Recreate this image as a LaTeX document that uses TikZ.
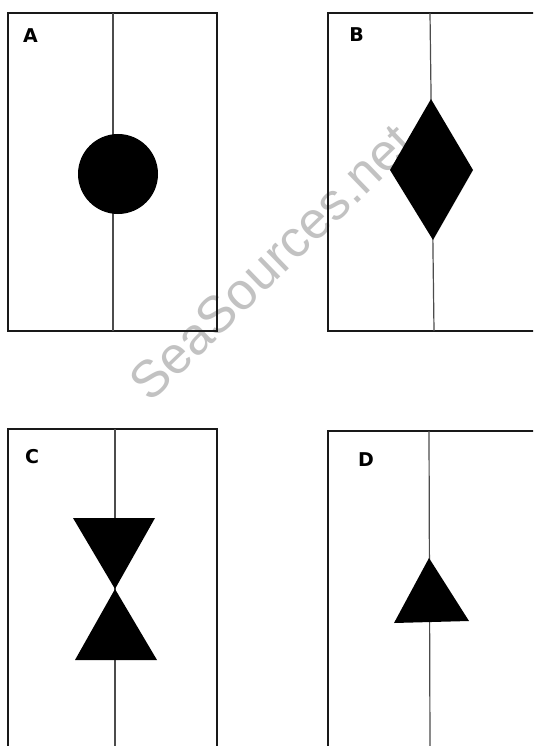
\documentclass[tikz,border=0pt]{standalone}
\usepackage{fontspec}
\setmainfont{Liberation Sans}
\newfontfamily\lblfont{DejaVu Sans}
\begin{document}
\begin{tikzpicture}[x=1pt,y=-1pt,
  frame/.style={line width=2.5pt, black!90},
  axis/.style={line width=1.2pt, black!70},
  sign/.style={fill=black, draw=none},
  lbl/.style={font=\lblfont\fontsize{19}{19}\selectfont\bfseries, inner sep=0pt, anchor=center},
  wm/.style={font=\fontsize{52}{52}\selectfont, text=black!24, rotate=44, inner sep=0pt, anchor=center}]
\useasboundingbox (0,0) rectangle (533,746);
\clip (0,0) rectangle (533,746);
\fill[white] (0,0) rectangle (533,746);
% watermark
\node[wm] (watermark) at (271,262) {SeaSources.net};
% Panel A
\draw[frame] (8,13) rectangle (217,331);
\draw[axis] (113,13) -- (113,331);
\fill[sign] (118,174) circle[radius=40pt];
\node[lbl] (labelA) at (30.5,36) {A};
% Panel B
\draw[frame] (545,13) -- (328,13) -- (328,331) -- (545,331);
\draw[axis] (430,13) -- (434,331);
\fill[sign] (431,99) -- (473,170) -- (433,240) -- (390,170) -- cycle;
\node[lbl] (labelB) at (356.5,35) {B};
% Panel C
\draw[frame] (8,760) -- (8,429) -- (217,429) -- (217,760);
\draw[axis] (115,429) -- (115,746);
\fill[sign] (73,518) -- (155,518) -- (115,589) -- cycle;
\fill[sign] (115,589) -- (157,660) -- (75,660) -- cycle;
\node[lbl] (labelC) at (32,457) {C};
% Panel D
\draw[frame] (328,760) -- (328,431) -- (545,431);
\draw[axis] (429,431) -- (430,746);
\fill[sign] (429,558) -- (469,621) -- (394,623) -- cycle;
\node[lbl] (labelD) at (366,460) {D};
\end{tikzpicture}
\end{document}
